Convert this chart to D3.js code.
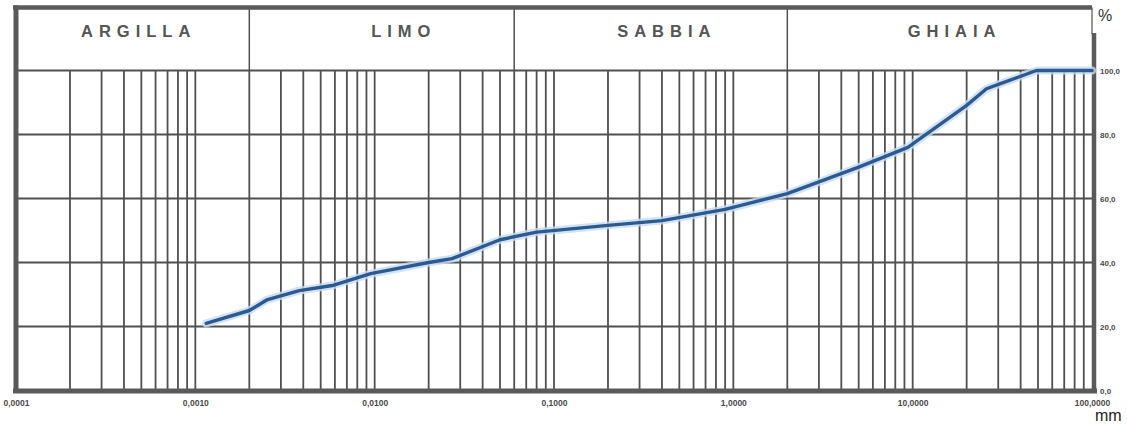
<!DOCTYPE html>
<html>
<head>
<meta charset="utf-8">
<script src="https://cdn.jsdelivr.net/npm/d3@7"></script>
<style>
  html, body { margin: 0; padding: 0; background: #fff; }
  svg { display: block; }
</style>
</head>
<body>
<svg id="chart" width="1127" height="425"></svg>
<script>
// ---- data ----
const diameters = [0.00115, 0.002, 0.0025, 0.0038, 0.0058, 0.0095, 0.02, 0.027, 0.05, 0.08, 0.2, 0.4, 0.9, 2.0, 5.0, 9.4, 20, 25.8, 30.6, 49, 100];
const passing   = [21, 25, 28.3, 31.2, 32.8, 36.5, 40.0, 41.2, 47.1, 49.5, 51.6, 53.1, 56.6, 61.5, 69.8, 76.0, 89.1, 94.3, 95.8, 100, 100];
const classes = ["ARGILLA", "LIMO", "SABBIA", "GHIAIA"];
const classBounds = [0.0001, 0.002, 0.06, 2, 100];
const xTickValues = [0.0001, 0.001, 0.01, 0.1, 1, 10, 100];
const xTickLabels = ["0,0001", "0,0010", "0,0100", "0,1000", "1,0000", "10,0000", "100,0000"];
const yTickValues = [0, 20, 40, 60, 80, 100];
const yTickLabels = ["0,0", "20,0", "40,0", "60,0", "80,0", "100,0"];
const yGridValues = [20, 40, 60, 80, 100];

// ---- layout ----
const L = 16, R = 1092, B = 390.5, T100 = 70.5, TOP = 7.5;
const svg = d3.select("#chart");
const x = d3.scaleLog().domain([0.0001, 100]).range([L, R]);
const y = d3.scaleLinear().domain([0, 100]).range([B, T100]);
const gridCol = "#505050";

// vertical grid lines: 1..9 x each decade
const gridVals = [];
for (let e = -4; e < 2; e++) for (let m = 1; m <= 9; m++) gridVals.push(m * Math.pow(10, e));
svg.append("g").selectAll("line").data(gridVals).join("line")
  .attr("x1", d => x(d)).attr("x2", d => x(d))
  .attr("y1", T100).attr("y2", B)
  .attr("stroke", gridCol).attr("stroke-width", 1.8);

// horizontal grid lines
svg.append("g").selectAll("line").data(yGridValues).join("line")
  .attr("x1", L).attr("x2", R)
  .attr("y1", d => y(d)).attr("y2", d => y(d))
  .attr("stroke", gridCol).attr("stroke-width", 1.8);

// header dividers
svg.append("g").selectAll("line").data(classBounds.slice(1, -1)).join("line")
  .attr("x1", d => x(d)).attr("x2", d => x(d))
  .attr("y1", TOP).attr("y2", T100)
  .attr("stroke", gridCol).attr("stroke-width", 1.5);
// thin right edge of header
svg.append("line").attr("x1", R).attr("x2", R).attr("y1", TOP).attr("y2", 34)
  .attr("stroke", gridCol).attr("stroke-width", 1.2);

// thick frame
svg.append("line").attr("x1", L - 3).attr("x2", R).attr("y1", TOP).attr("y2", TOP)
  .attr("stroke", "#5a5a5a").attr("stroke-width", 4.5);
svg.append("line").attr("x1", L).attr("x2", L).attr("y1", TOP - 2).attr("y2", B + 2.5)
  .attr("stroke", "#5a5a5a").attr("stroke-width", 5);
svg.append("line").attr("x1", L - 3).attr("x2", R + 5).attr("y1", B + 0.5).attr("y2", B + 0.5)
  .attr("stroke", "#5a5a5a").attr("stroke-width", 5);
svg.append("line").attr("x1", R + 2).attr("x2", R + 2).attr("y1", 33).attr("y2", B + 2.5)
  .attr("stroke", "#5a5a5a").attr("stroke-width", 4.5);

// header labels
const labelShift = [6, 22, 16, 15];
svg.append("g").selectAll("text").data(classes).join("text")
  .attr("x", (d, i) => (x(classBounds[i]) + x(classBounds[i + 1])) / 2 + labelShift[i])
  .attr("y", 37)
  .attr("text-anchor", "middle")
  .attr("font-family", "Liberation Sans, Arial, sans-serif")
  .attr("font-weight", "bold")
  .attr("font-size", 16.5)
  .attr("letter-spacing", 6)
  .attr("fill", "#555")
  .text(d => d);

// curve
const pts = diameters.map((d, i) => [d, passing[i]]);
const line = d3.line().x(d => x(d[0])).y(d => y(d[1]));
svg.append("path").datum(pts).attr("d", line)
  .attr("fill", "none").attr("stroke", "#c9dcf0").attr("stroke-width", 8)
  .attr("stroke-linejoin", "round").attr("stroke-linecap", "round").attr("opacity", 0.8);
svg.append("path").datum(pts).attr("d", line)
  .attr("fill", "none").attr("stroke", "#2b5a93").attr("stroke-width", 3.4)
  .attr("stroke-linejoin", "round").attr("stroke-linecap", "round");

// x axis labels
const xAxis = d3.axisBottom(x).tickValues(xTickValues).tickSize(0)
  .tickFormat((d, i) => xTickLabels[i]);
const gx = svg.append("g").attr("transform", `translate(0,${B + 6})`).call(xAxis);
gx.select(".domain").remove();
gx.selectAll("text").attr("font-family", "Liberation Sans, Arial, sans-serif")
  .attr("font-size", 8.5).attr("font-weight", "bold").attr("fill", "#4a4a4a").attr("dy", "0.71em");

// y axis labels
const yAxis = d3.axisRight(y).tickValues(yTickValues).tickSize(0)
  .tickFormat((d, i) => yTickLabels[i]);
const gy = svg.append("g").attr("transform", `translate(${R + 8},0)`).call(yAxis);
gy.select(".domain").remove();
gy.selectAll("text").attr("font-family", "Liberation Sans, Arial, sans-serif")
  .attr("font-size", 8).attr("font-weight", "bold").attr("fill", "#4a4a4a").attr("x", 0);

// unit labels
svg.append("text").attr("x", 1098).attr("y", 21)
  .attr("font-family", "Liberation Sans, Arial, sans-serif").attr("font-size", 16)
  .attr("fill", "#333").text("%");
svg.append("text").attr("x", 1095).attr("y", 421)
  .attr("font-family", "Liberation Sans, Arial, sans-serif").attr("font-size", 16)
  .attr("fill", "#222").text("mm");
</script>
</body>
</html>
